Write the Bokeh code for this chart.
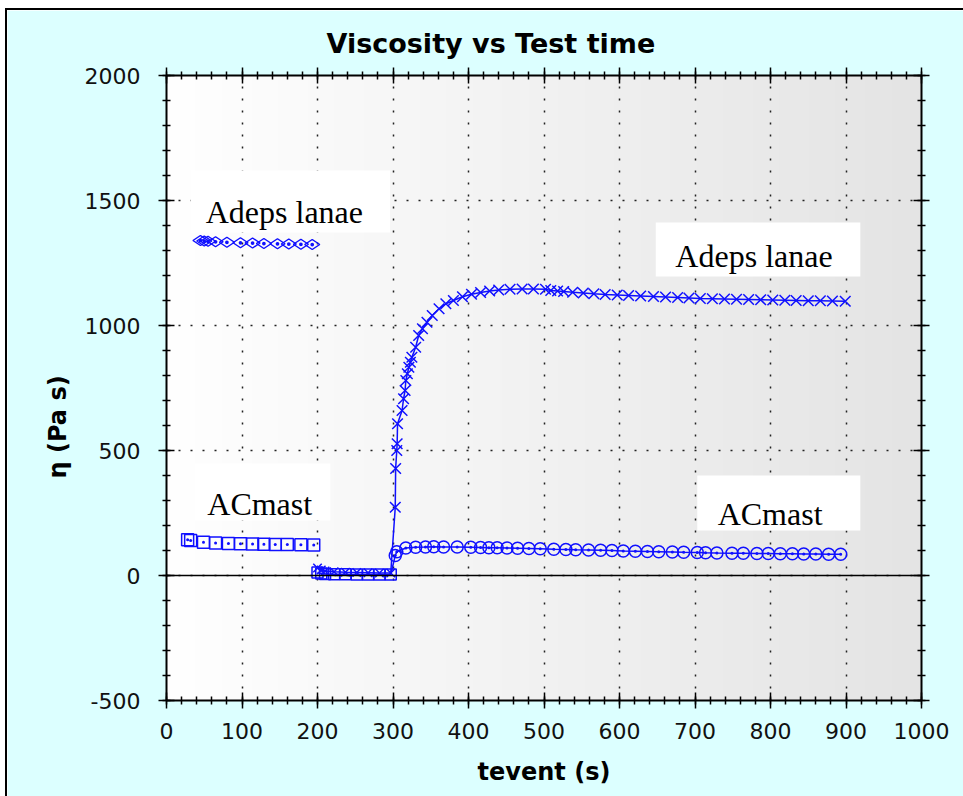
import numpy as np
from math import pi
from bokeh.plotting import figure
from bokeh.models import (Range1d, LinearAxis, SingleIntervalTicker, Span,
                          Label, BoxAnnotation, Title, PrintfTickFormatter)
from bokeh.embed import file_html
from bokeh.resources import INLINE

# ---------------- data ----------------
# Adeps lanae, interval 1 (0-200 s)
adeps_i1_t = [45, 50, 55, 65, 80, 98, 114, 129, 147, 162, 178, 193]
adeps_i1_eta = [1340, 1338, 1337, 1335, 1333, 1331, 1330, 1328, 1327, 1326, 1325, 1324]

# ACmast, interval 1
acmast_i1_t = [28, 32, 49, 65, 82, 98, 114, 129, 144, 160, 178, 195]
acmast_i1_eta = [143, 140, 133, 130, 128, 127, 126, 125, 124, 124, 123, 122]

# interval 2 (200-300 s, high shear)
i2_t = [200, 205, 210, 222, 237, 252, 267, 282, 297]
adeps_i2_eta = [30, 22, 18, 15, 13, 12, 11, 10, 10]
acmast_i2_eta = [12, 8, 6, 5, 5, 4, 4, 4, 4]

# Adeps lanae, interval 3 (recovery)
adeps_i3_t = [303, 303.5, 305, 305.5, 306, 312, 314, 316, 317, 319, 321, 323,
              325, 330, 334, 339, 345, 352, 361, 370, 380, 392, 404, 416, 428,
              440, 455, 471, 486, 502, 509, 518, 526, 538, 552, 566, 581, 597,
              612, 628, 645, 661, 677, 692, 707, 723, 739, 755, 771, 787, 803,
              819, 834, 850, 866, 882, 899]
adeps_i3_eta = [273, 428, 500, 527, 607, 660, 707, 740, 780, 807, 833, 853,
                873, 913, 960, 987, 1013, 1040, 1067, 1087, 1100, 1115, 1125,
                1132, 1138, 1142, 1145, 1146, 1146, 1145, 1140, 1138, 1136,
                1133, 1130, 1127, 1124, 1122, 1120, 1118, 1116, 1114, 1112,
                1110, 1108, 1107, 1106, 1105, 1104, 1103, 1102, 1101, 1100,
                1099, 1099, 1098, 1097]

# ACmast, interval 3
acmast_i3_t = [303, 305, 317, 330, 343, 354, 367, 385, 403, 416, 427, 438, 451,
               465, 480, 495, 513, 529, 542, 559, 575, 590, 605, 621, 637, 652,
               670, 685, 703, 714, 729, 749, 764, 782, 797, 813, 829, 844, 860,
               877, 893]
acmast_i3_eta = [80, 95, 110, 113, 114, 115, 114, 114, 113, 112, 111, 111, 110,
                 109, 108, 107, 105, 104, 103, 102, 101, 100, 98, 97, 96, 95,
                 94, 93, 92, 91, 90, 89, 89, 88, 88, 87, 87, 86, 86, 85, 85]

x_range = (0, 1000)
y_range = (-500, 2000)

BLUE = "#1010FF"
SANS = "DejaVu Sans"
SERIF = "Liberation Serif"

p = figure(frame_width=755, frame_height=625,
           min_border_left=159, min_border_right=42,
           min_border_top=65, min_border_bottom=96,
           x_range=Range1d(*x_range), y_range=Range1d(*y_range),
           output_backend="svg", toolbar_location=None,
           x_axis_location=None, y_axis_location=None)
p.margin = (8, 0, 0, 5)
p.styles = {"border-top": "2px solid black", "border-left": "2px solid black"}
p.border_fill_color = "#DCFFFF"
p.background_fill_color = "#F4F4F4"
p.outline_line_color = None

# title
p.title.text = "Viscosity vs Test time"
p.title.text_font = SANS
p.title.text_font_size = "27px"
p.title.text_font_style = "bold"
p.title.text_color = "black"
p.title.align = "left"
p.title.offset = 160
p.title.standoff = 17

# gradient background of the plot area (white -> light grey)
n = 256
grad = np.empty((1, n), dtype=np.uint32)
view = grad.view(dtype=np.uint8).reshape((1, n, 4))
shade = np.linspace(255, 228, n).astype(np.uint8)
view[0, :, 0] = shade
view[0, :, 1] = shade
view[0, :, 2] = shade
view[0, :, 3] = 255
p.image_rgba(image=[grad], x=x_range[0], y=y_range[0],
             dw=x_range[1] - x_range[0], dh=y_range[1] - y_range[0], level="image")


def make_axis(kind, labels):
    if kind == "x":
        ticker = SingleIntervalTicker(interval=100, num_minor_ticks=5)
    else:
        ticker = SingleIntervalTicker(interval=500, num_minor_ticks=5)
    ax = LinearAxis(ticker=ticker, formatter=PrintfTickFormatter(format="%d"))
    ax.axis_line_color = "black"
    ax.axis_line_width = 2
    ax.major_tick_line_color = "black"
    ax.major_tick_line_width = 1.5
    ax.minor_tick_line_color = "black"
    ax.minor_tick_line_width = 1.5
    ax.major_tick_in = 8
    ax.major_tick_out = 8
    ax.minor_tick_in = 4
    ax.minor_tick_out = 4
    ax.major_label_text_font = SANS
    ax.major_label_text_font_size = "22px"
    ax.major_label_text_color = "#111111" if labels else None
    return ax


xb = make_axis("x", True)
xb.major_label_standoff = 14
xb.axis_label = "tevent (s)"
xb.axis_label_text_font = SANS
xb.axis_label_text_font_size = "24px"
xb.axis_label_text_font_style = "bold"
xb.axis_label_text_color = "black"
xb.axis_label_standoff = 16
p.add_layout(xb, "below")

yl = make_axis("y", True)
yl.major_label_standoff = 18
p.add_layout(yl, "left")

# y-axis title: set a little below the frame centre, as in the reference
ytitle = Title(text="η (Pa s)", align="left", offset=222, standoff=20,
               text_font=SANS, text_font_size="24px", text_font_style="bold",
               text_color="black")
p.add_layout(ytitle, "left")

xt = make_axis("x", False)
xt.major_label_standoff = 0
p.add_layout(xt, "above")
yr = make_axis("y", False)
yr.major_label_standoff = 0
p.add_layout(yr, "right")

# grid lines (dotted)
p.xgrid.ticker = SingleIntervalTicker(interval=100)
p.ygrid.ticker = SingleIntervalTicker(interval=500)
for g in (p.xgrid, p.ygrid):
    g.grid_line_color = "#222222"
    g.grid_line_width = 1.5
    g.grid_line_dash = "2 10"

# zero line
p.add_layout(Span(location=0, dimension="width", line_color="black", line_width=1.5))

# ---------------- series ----------------
# lines (interval 2 + 3 connected)
p.line(i2_t + acmast_i3_t, acmast_i2_eta + acmast_i3_eta, line_color=BLUE, line_width=1.5)
p.line(i2_t + adeps_i3_t, adeps_i2_eta + adeps_i3_eta, line_color=BLUE, line_width=1.5)

p.scatter(adeps_i1_t, adeps_i1_eta, marker="diamond_dot", size=15, angle=pi / 2,
          line_color=BLUE, fill_color=None, line_width=1.5)
p.scatter(acmast_i1_t, acmast_i1_eta, marker="square_dot", size=12,
          line_color=BLUE, fill_color=None, line_width=1.5)
p.scatter(i2_t, acmast_i2_eta, marker="square", size=11,
          line_color=BLUE, fill_color=None, line_width=1.5)
p.scatter(i2_t, adeps_i2_eta, marker="x", size=12,
          line_color=BLUE, line_width=1.5)
p.scatter(adeps_i3_t, adeps_i3_eta, marker="x", size=15,
          line_color=BLUE, line_width=1.5)
p.scatter(acmast_i3_t, acmast_i3_eta, marker="circle_dot", size=12,
          line_color=BLUE, fill_color=None, line_width=1.5)

# ---------------- text boxes ----------------
boxes = [
    (32, 296, 1372, 1620),
    (648, 919, 1196, 1412),
    (38, 217, 220, 448),
    (703, 919, 180, 400),
]
for l, r, b, t in boxes:
    p.add_layout(BoxAnnotation(left=l, right=r, bottom=b, top=t,
                               fill_color="white", fill_alpha=1.0, line_color=None))

texts = [
    (52, 1453, "Adeps lanae"),
    (674, 1280, "Adeps lanae"),
    (54, 288, "ACmast"),
    (730, 248, "ACmast"),
]
for x, y, s in texts:
    p.add_layout(Label(x=x, y=y, text=s, text_font=SERIF, text_font_size="32px",
                       text_color="black", text_baseline="alphabetic", text_align="left"))

open("out.html", "w").write(file_html(p, INLINE))
